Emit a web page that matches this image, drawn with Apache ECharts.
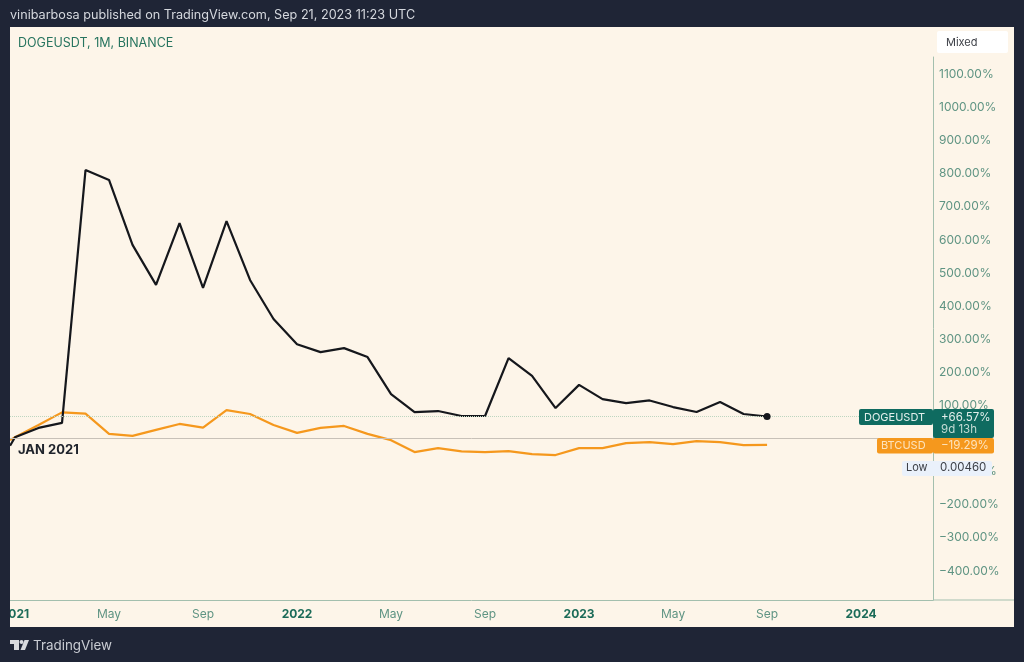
<!DOCTYPE html>
<html>
<head>
<meta charset="utf-8">
<title>DOGEUSDT vs BTCUSD</title>
<style>
  html, body { margin: 0; padding: 0; background: #1f2536; }
  #main { width: 1024px; height: 662px; }
</style>
<script src="https://cdn.jsdelivr.net/npm/echarts@6/dist/echarts.min.js"></script>
</head>
<body>
<div id="main"></div>
<script>
// months since Jan 2021, the first point is the start of the candle cut off at the left edge
const months = [-0.21, 0, 1, 2, 3, 4, 5, 6, 7, 8, 9, 10, 11, 12, 13, 14, 15, 16, 17, 18, 19, 20, 21, 22, 23, 24, 25, 26, 27, 28, 29, 30, 31, 32];
const dogeValues = [-22, 4, 32, 47, 811, 781, 585, 464, 651, 455, 657, 479, 361, 285, 261, 273, 246, 134, 80, 83, 68, 68, 243, 189, 92, 162, 119, 107, 115, 95, 80, 110, 74, 66.57];
const btcValues = [-5, 4, 41, 79, 75, 14, 8, 26, 44, 33, 86, 74, 41, 17, 32, 38, 14, -5, -41, -29, -39, -41, -38, -47, -50, -29, -29, -14, -11, -17, -8, -11, -20, -19.29];

const xTicks = [0, 4, 8, 12, 16, 20, 24, 28, 32, 36];
const xTickLabels = ["2021", "May", "Sep", "2022", "May", "Sep", "2023", "May", "Sep", "2024"];
const yTicks = [-400, -300, -200, -100, 0, 100, 200, 300, 400, 500, 600, 700, 800, 900, 1000, 1100];

const DARK = "#1f2536";
const PAPER = "#fdf5e9";
const AXIS = "#a3bfae";
const LABEL = "#5f9483";
const TEAL = "#0f6b60";
const ORANGE = "#f5981d";
const FONT = "Inter, 'Noto Sans', sans-serif";

var myChart = echarts.init(document.getElementById("main"));

function tag(x, y, w, h, fill) {
  return { type: "rect", zlevel: 1, shape: { x: x, y: y, width: w, height: h, r: 2 }, style: { fill: fill } };
}
function label(x, y, text, fill, size, weight) {
  return {
    type: "text", zlevel: 1, x: x, y: y,
    style: { text: text, fill: fill, font: (weight || "normal") + " " + (size || 12) + "px " + FONT, textVerticalAlign: "middle" }
  };
}

const option = {
  backgroundColor: DARK,
  animation: false,
  textStyle: { fontFamily: FONT },
  grid: { left: 10, width: 923, top: 57, bottom: 62, outerBoundsMode: "none" },
  xAxis: {
    type: "value",
    min: -0.213,
    max: 39.06,
    splitLine: { show: false },
    axisTick: { show: false },
    axisLine: { onZero: false, lineStyle: { color: AXIS, width: 1 } },
    axisLabel: {
      customValues: xTicks,
      margin: 8,
      showMinLabel: true,
      hideOverlap: false,
      formatter: function (v) {
        const s = xTickLabels[xTicks.indexOf(v)];
        return /^\d/.test(s) ? "{year|" + s + "}" : s;
      },
      color: LABEL,
      fontSize: 12,
      rich: { year: { color: "#1c6b58", fontWeight: "bold", fontSize: 12, fontFamily: FONT } }
    }
  },
  yAxis: {
    type: "value",
    position: "right",
    min: -487.9,
    max: 1152.6,
    splitLine: { show: false },
    axisTick: { show: false },
    axisLine: { show: true, onZero: false, lineStyle: { color: AXIS, width: 1 } },
    axisLabel: {
      customValues: yTicks,
      margin: 6,
      padding: [2, 0, 0, 0],
      color: LABEL,
      fontSize: 12,
      formatter: function (v) {
        return (v < 0 ? "\u2212" + (-v) : v) + ".00%";
      }
    }
  },
  graphic: {
    elements: [
      // paper behind the plot
      { type: "rect", z: 0, shape: { x: 10, y: 27, width: 1004, height: 600 }, style: { fill: PAPER } },
      { type: "line", z: 1, shape: { x1: 933, y1: 600, x2: 1014, y2: 600 }, style: { stroke: AXIS, lineWidth: 1 } },
      // dark frame clips the first year label
      { type: "rect", zlevel: 1, shape: { x: 0, y: 0, width: 10, height: 662 }, style: { fill: DARK } },
      { type: "rect", zlevel: 1, shape: { x: 10, y: 627, width: 1004, height: 35 }, style: { fill: DARK } },

      label(10, 15, "vinibarbosa published on TradingView.com, Sep 21, 2023 11:23 UTC", "#d5d8de", 12.65),
      label(18, 43, "DOGEUSDT, 1M, BINANCE", "#27745f", 12.5),
      label(18, 450, "JAN 2021", "#20242c", 13, "bold"),

      { type: "rect", zlevel: 1, shape: { x: 937, y: 31, width: 71, height: 22, r: 2 }, style: { fill: "#ffffff" } },
      label(946, 43, "Mixed", "#3c3f46", 11),

      // price tags on the scale
      tag(859, 409, 74, 16, TEAL),
      tag(933, 409, 61, 29, TEAL),
      label(864, 417.5, "DOGEUSDT", "#e3efec", 11),
      label(941, 417.5, "+66.57%", "#e3efec", 11.5),
      label(941, 430, "9d 13h", "#c3dbd4", 11.5),
      tag(877, 438, 56, 15.5, ORANGE),
      tag(933, 438, 61, 15.5, ORANGE),
      label(881, 446, "BTCUSD", "#fde3bd", 11),
      label(941, 446, "\u221219.29%", "#fde3bd", 11.5),
      tag(902, 461, 90, 15, "#eaf1fb"),
      label(906, 468, "Low", "#3c3f46", 11),
      label(940, 468, "0.00460", "#3c3f46", 11.5),

      // TradingView logo
      { type: "polygon", zlevel: 1, shape: { points: [[10, 640], [19, 640], [19, 650], [14, 650], [14, 644], [10, 644]] }, style: { fill: "#d8dade" } },
      { type: "circle", zlevel: 1, shape: { cx: 21.5, cy: 642, r: 2 }, style: { fill: "#d8dade" } },
      { type: "polygon", zlevel: 1, shape: { points: [[24.5, 640], [29, 640], [25, 650], [20.5, 650]] }, style: { fill: "#d8dade" } },
      label(33, 646, "TradingView", "#c9ccd3", 13.4)
    ]
  },
  series: [
    {
      name: "BTCUSD",
      type: "line",
      data: months.map((m, i) => [m, btcValues[i]]),
      showSymbol: false,
      lineStyle: { color: ORANGE, width: 2.2 },
      itemStyle: { color: ORANGE },
      z: 3,
      markLine: {
        silent: true,
        symbol: "none",
        label: { show: false },
        data: [
          { yAxis: 0, lineStyle: { color: "#c8c1b8", width: 1, type: "solid" } },
          { yAxis: 66.57, lineStyle: { color: "#bdd6c0", width: 1, type: "dotted" } }
        ]
      }
    },
    {
      name: "DOGEUSDT",
      type: "line",
      data: months.map((m, i) => [m, dogeValues[i]]),
      showSymbol: false,
      lineStyle: { color: "#15171c", width: 2.2 },
      itemStyle: { color: "#15171c" },
      z: 4,
      markPoint: {
        silent: true,
        symbol: "circle",
        symbolSize: 7,
        label: { show: false },
        itemStyle: { color: "#15171c" },
        data: [{ coord: [32, 66.57] }]
      }
    }
  ]
};
myChart.setOption(option);
</script>
</body>
</html>
